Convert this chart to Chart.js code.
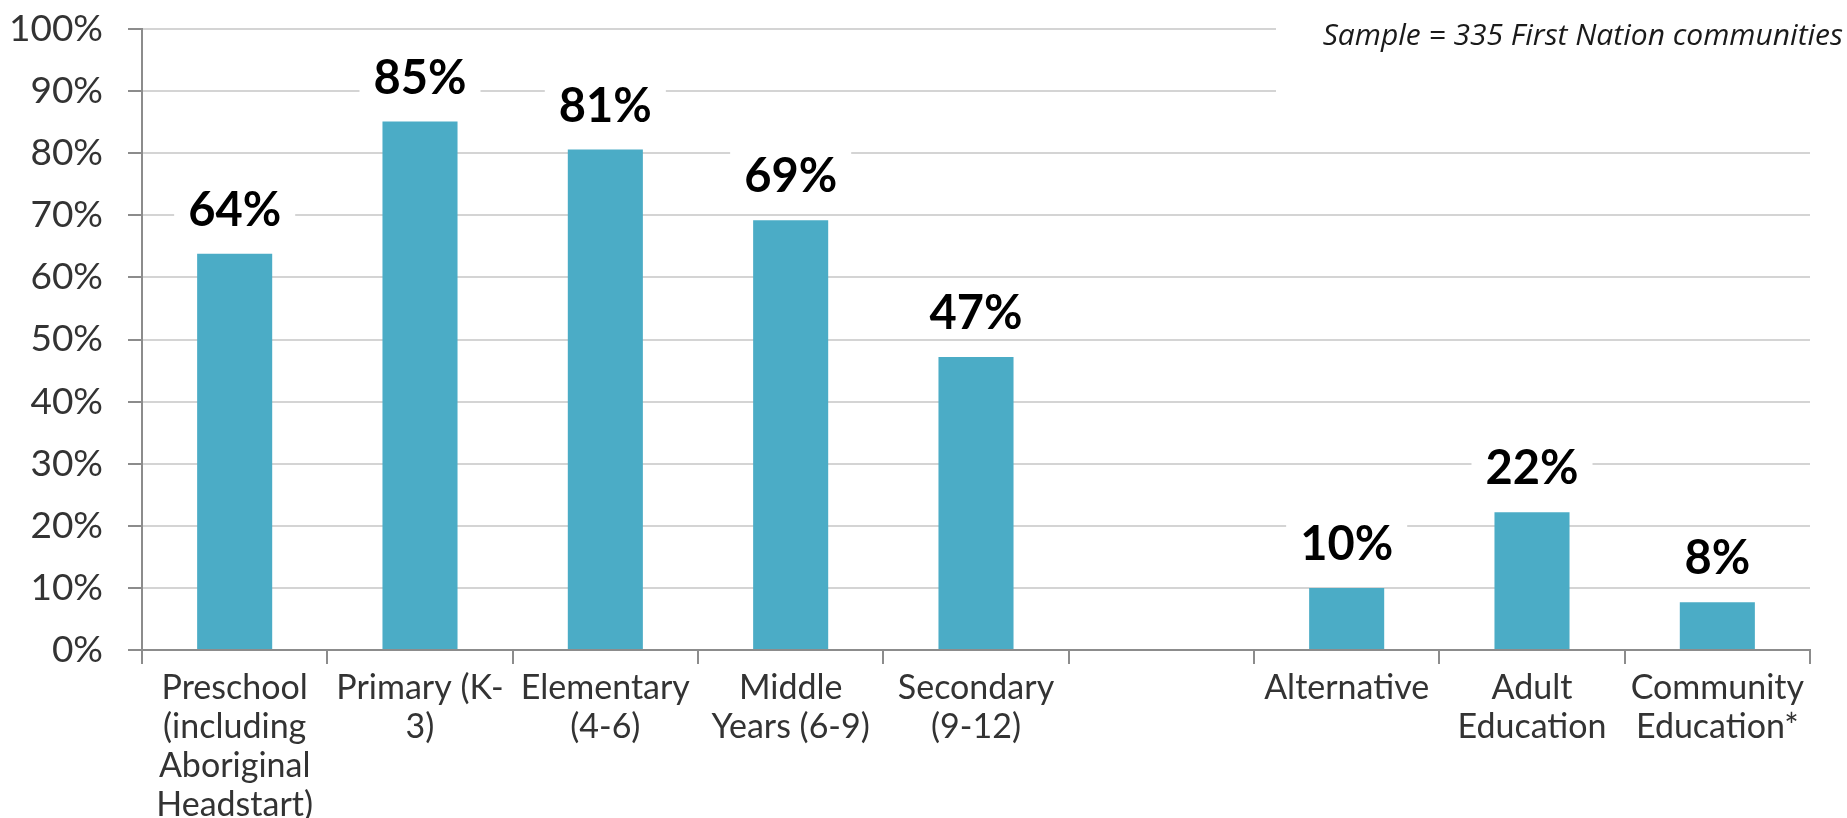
<!DOCTYPE html>
<html>
<head>
<meta charset="utf-8">
<script src="https://cdn.jsdelivr.net/npm/chart.js@4.4.0/dist/chart.umd.min.js"></script>
<style>
  html, body { margin: 0; padding: 0; background: #fff; }
  #wrap { width: 1847px; height: 818px; position: relative; }
</style>
</head>
<body>
<div id="wrap"><canvas id="programChart"></canvas></div>
<script>
// categories (one blank slot between the K-12 group and the others)
const categories = [
  ['Preschool', '(including', 'Aboriginal', 'Headstart)'],
  ['Primary (K-', '3)'],
  ['Elementary', '(4-6)'],
  ['Middle', 'Years (6-9)'],
  ['Secondary', '(9-12)'],
  '',
  'Alternative',
  ['Adult', 'Education'],
  ['Community', 'Education*']
];
// share of communities offering each program (%)
const shareValues = [63.8, 85.1, 80.6, 69.2, 47.2, null, 10.0, 22.2, 7.7];
const yTicks = [0, 10, 20, 30, 40, 50, 60, 70, 80, 90, 100];
const sampleNote = 'Sample = 335 First Nation communities';

const barLabels = {
  id: 'barLabels',
  afterDatasetsDraw(chart) {
    const ctx = chart.ctx;
    const meta = chart.getDatasetMeta(0);
    ctx.save();
    ctx.font = 'bold 47px Lato';
    ctx.textAlign = 'center';
    ctx.textBaseline = 'middle';
    meta.data.forEach((bar, i) => {
      const v = shareValues[i];
      if (v === null) return;
      const txt = Math.round(v) + '%';
      const w = ctx.measureText(txt).width;
      const cy = bar.y - 44;
      ctx.fillStyle = '#fff';
      ctx.fillRect(bar.x - w / 2 - 14, cy - 26, w + 28, 52);
      ctx.fillStyle = '#000';
      ctx.fillText(txt, bar.x, cy + 1);
    });
    ctx.restore();
  }
};

const noteBox = {
  id: 'noteBox',
  afterDraw(chart) {
    const ctx = chart.ctx;
    ctx.save();
    ctx.fillStyle = '#fff';
    ctx.fillRect(1276, 12, 571, 88);
    ctx.font = 'italic 30px "Open Sans"';
    ctx.textAlign = 'right';
    ctx.textBaseline = 'middle';
    ctx.fillStyle = '#1a1a1a';
    ctx.fillText(sampleNote, 1843, 36);
    ctx.restore();
  }
};

const ctx = document.getElementById('programChart').getContext('2d');
new Chart(ctx, {
  type: 'bar',
  data: {
    labels: categories,
    datasets: [{
      data: shareValues,
      backgroundColor: '#4BACC6',
      borderWidth: 0,
      barPercentage: 0.405,
      categoryPercentage: 1
    }]
  },
  options: {
    responsive: true,
    maintainAspectRatio: false,
    animation: false,
    events: [],
    layout: { padding: { top: 29, right: 37, left: 0, bottom: 0 } },
    plugins: {
      legend: { display: false },
      tooltip: { enabled: false }
    },
    scales: {
      x: {
        afterFit(scale) { scale.height = 168; },
        border: { color: '#8c8c8c', width: 2 },
        grid: {
          offset: true,
          drawOnChartArea: false,
          drawTicks: true,
          tickLength: 14,
          color: '#8c8c8c',
          lineWidth: 2
        },
        ticks: {
          autoSkip: false,
          maxRotation: 0,
          padding: 4,
          color: '#333',
          font: { family: 'Lato', size: 34, lineHeight: 1.15 }
        }
      },
      y: {
        min: 0,
        max: 100,
        afterFit(scale) {
          scale.width = 142;
          scale.paddingTop = 0;
          scale.paddingBottom = 0;
        },
        afterBuildTicks(scale) { scale.ticks = yTicks.map(v => ({ value: v })); },
        border: { color: '#8c8c8c', width: 2 },
        grid: {
          color: '#d4d4d4',
          lineWidth: 2,
          tickColor: '#8c8c8c',
          tickLength: 14
        },
        ticks: {
          padding: 25,
          color: '#333',
          font: { family: 'Lato', size: 37 },
          callback: v => v + '%'
        }
      }
    }
  },
  plugins: [barLabels, noteBox]
});
</script>
</body>
</html>
